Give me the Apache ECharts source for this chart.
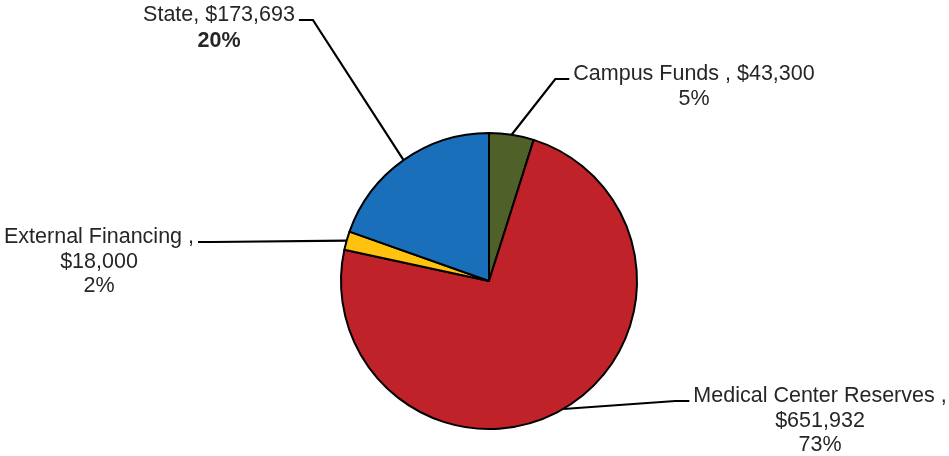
<!DOCTYPE html>
<html><head><meta charset="utf-8">
<script src="https://cdn.jsdelivr.net/npm/echarts@6/dist/echarts.min.js"></script>
<style>html,body{margin:0;padding:0;background:#fff}#c{width:949px;height:456px}</style>
</head><body><div id="c"></div>
<script>
const categories = ['Campus Funds ', 'Medical Center Reserves ', 'External Financing ', 'State'];
const values = [43300, 651932, 18000, 173693];
const colors = ['#4F6128', '#C0222A', '#FFC20F', '#1A6FBB'];
// label layout: centre x, top y of each label block
const labelPos = [[694, 62], [820, 384], [99, 225], [219, 3]];
const nameSep = [', ', ',\n', ',\n', ', '];
const boldPct = [false, false, false, true];

function money(v) { return '$' + String(v).replace(/\B(?=(\d{3})+(?!\d))/g, ','); }

const CX = 489, CY = 281, R = 148;
const total = values.reduce((a, b) => a + b, 0);
function arcPoint(i) {
  let before = 0;
  for (let k = 0; k < i; k++) before += values[k];
  const mid = (before + values[i] / 2) / total * Math.PI * 2;
  return [CX + R * Math.sin(mid), CY - R * Math.cos(mid)];
}

const FONT = 'Liberation Sans, Arial, sans-serif';
const chart = echarts.init(document.getElementById('c'));
chart.setOption({
  animation: false,
  series: [{
    type: 'pie',
    center: [CX, CY],
    radius: R,
    startAngle: 90,
    clockwise: true,
    percentPrecision: 0,
    data: categories.map((n, i) => ({ name: n, value: values[i], itemStyle: { color: colors[i] } })),
    itemStyle: { borderColor: '#000', borderWidth: 2 },
    emphasis: { disabled: true },
    label: {
      show: true,
      position: 'outside',
      align: 'center',
      color: '#262626',
      fontFamily: FONT,
      fontSize: 21.5,
      lineHeight: 24.5,
      formatter: p => {
        const i = p.dataIndex;
        const txt = p.name + nameSep[i] + money(p.value);
        const lines = txt.split('\n').map(s => '{t|' + s + '}');
        lines.push('{' + (boldPct[i] ? 'b' : 't') + '|' + p.percent + '%}');
        return lines.join('\n');
      },
      rich: {
        t: { fontFamily: FONT, fontSize: 21.5, lineHeight: 24.5, color: '#262626' },
        b: { fontFamily: FONT, fontSize: 21.5, lineHeight: 28, color: '#262626', fontWeight: 'bold' }
      }
    },
    labelLine: { show: true, length: 20, length2: 14, lineStyle: { color: '#000', width: 2.2 } },
    labelLayout: function (params) {
      const i = params.dataIndex;
      const x = labelPos[i][0], y = labelPos[i][1];
      const w = params.labelRect.width;
      const arc = arcPoint(i);
      const segY = y + 17;
      const onLeft = x < arc[0];
      const sideX = onLeft ? x + w / 2 + 4 : x - w / 2 - 4;
      const endX = onLeft ? sideX + 14 : sideX - 14;
      return { x: x, y: y, align: 'center', verticalAlign: 'top', labelLinePoints: [arc, [endX, segY], [sideX, segY]] };
    }
  }]
});
</script></body></html>
